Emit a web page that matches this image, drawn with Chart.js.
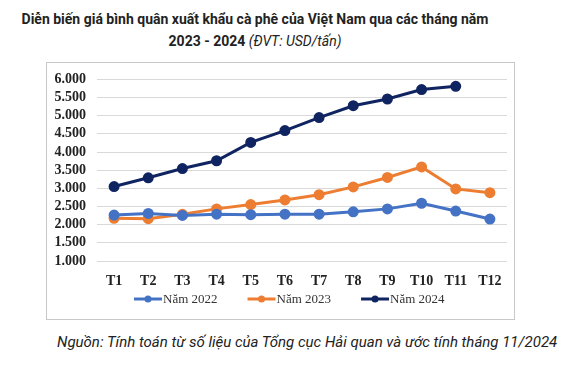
<!DOCTYPE html>
<html>
<head>
<meta charset="utf-8">
<script src="https://cdn.jsdelivr.net/npm/chart.js@4/dist/chart.umd.min.js"></script>
<style>
  body { margin:0; width:576px; height:367px; background:#fff; position:relative; overflow:hidden; }
  #title { position:absolute; left:0; width:510px; top:8px; text-align:center;
           font-family:Roboto, sans-serif; font-weight:bold; font-size:14px; line-height:22px; color:#222; }
  #title i { font-weight:normal; }
  #frame { position:absolute; left:46px; top:62px; width:467px; height:256px; border:1px solid #c8c8c8; }
  #c { position:absolute; left:47px; top:60px; display:block; }
  #src { position:absolute; left:57px; top:333px; font-family:Roboto, sans-serif; font-style:italic;
         font-size:15px; color:#222; white-space:nowrap; }
</style>
</head>
<body>
<div id="title">Diễn biến giá bình quân xuất khẩu cà phê của Việt Nam qua các tháng năm<br>2023 - 2024 <i>(ĐVT: USD/tấn)</i></div>
<div id="frame"></div>
<canvas id="c" width="467" height="259"></canvas>
<div id="src">Nguồn: Tính toán từ số liệu của Tổng cục Hải quan và ước tính tháng 11/2024</div>
<script>
const months = ['T1','T2','T3','T4','T5','T6','T7','T8','T9','T10','T11','T12'];
const y2022 = [2265, 2310, 2255, 2290, 2275, 2290, 2290, 2355, 2435, 2590, 2375, 2155];
const y2023 = [2175, 2165, 2285, 2435, 2555, 2680, 2825, 3040, 3300, 3590, 2985, 2880];
const y2024 = [3050, 3290, 3545, 3760, 4265, 4590, 4950, 5275, 5460, 5720, 5810, null];
const seriesNames = ['Năm 2022', 'Năm 2023', 'Năm 2024'];
const colors = ['#4472c4', '#ed7d31', '#0f2461'];

const serif = 'Liberation Serif, Times New Roman, serif';

// line + dot legend like the Excel original
const lineLegend = {
  id:'lineLegend',
  afterDraw(chart){
    const ctx = chart.ctx;
    const y = 239;
    let x = chart.chartArea.left + 37;
    ctx.save();
    ctx.font = '13px ' + serif;
    ctx.textBaseline = 'middle';
    chart.data.datasets.forEach(ds => {
      ctx.strokeStyle = ds.borderColor;
      ctx.lineWidth = 3;
      ctx.beginPath(); ctx.moveTo(x, y); ctx.lineTo(x + 28, y); ctx.stroke();
      ctx.fillStyle = ds.borderColor;
      ctx.beginPath(); ctx.arc(x + 14, y, 3.5, 0, Math.PI*2); ctx.fill();
      ctx.fillStyle = '#333';
      ctx.fillText(ds.label, x + 29, y + 1);
      x += 29 + ctx.measureText(ds.label).width + 30;
    });
    ctx.restore();
  }
};

new Chart(document.getElementById('c'), {
  type:'line',
  data:{
    labels: months,
    datasets: [y2022, y2023, y2024].map((d, i) => ({
      label: seriesNames[i],
      data: d,
      borderColor: colors[i],
      backgroundColor: colors[i],
      borderWidth: 3,
      pointRadius: 4,
      pointHoverRadius: 4,
      tension: 0
    }))
  },
  options:{
    responsive:false,
    animation:false,
    layout:{ padding:{ top:4, right:2, bottom:33, left:0 } },
    plugins:{ legend:{ display:false }, tooltip:{ enabled:false } },
    scales:{
      x:{
        offset:true,
        grid:{ display:false },
        border:{ display:false },
        ticks:{ color:'#222', padding:4, autoSkip:false, maxRotation:0,
                font:{ family:serif, size:14, weight:'bold' } },
        afterFit(s){ s.height = 25; }
      },
      y:{
        min:1000, max:6000,
        grid:{ color:'#d9d9d9', lineWidth:1, drawTicks:false },
        border:{ display:false },
        ticks:{
          stepSize:500, padding:11, color:'#222', autoSkip:false,
          font:{ family:serif, size:14, weight:'bold' },
          callback: v => String(v).replace(/^(\d)(\d{3})$/, '$1.$2')
        },
        afterFit(s){ s.width = 50; }
      }
    }
  },
  plugins:[lineLegend]
});
</script>
</body>
</html>
